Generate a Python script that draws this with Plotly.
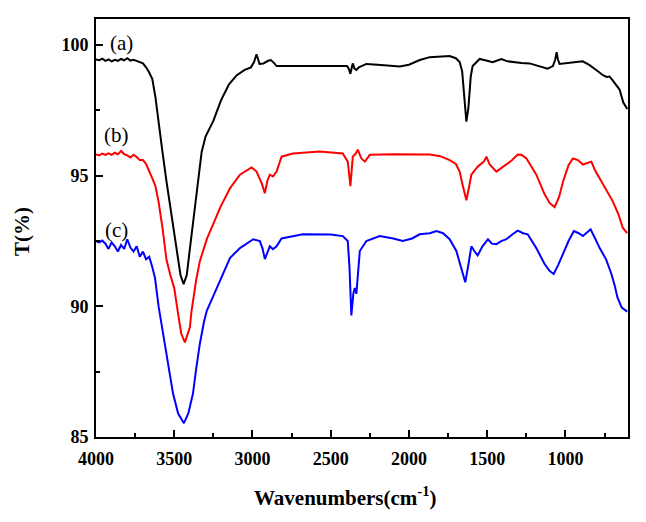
import plotly.graph_objects as go

# ---- data: wavenumber (cm^-1) and transmittance (%) ----
a_wn = [4000, 3980, 3960, 3940, 3920, 3900, 3880, 3860, 3840, 3820, 3800, 3780, 3760, 3740, 3720, 3700,
        3680, 3660, 3640, 3620, 3600, 3575, 3550, 3525, 3500, 3480, 3460, 3440, 3420, 3400, 3375, 3350,
        3325, 3300, 3275, 3250, 3225, 3200, 3150, 3100, 3050, 3010, 2990, 2974, 2955, 2930, 2900, 2882,
        2860, 2846, 2800, 2700, 2600, 2500, 2420, 2395, 2385, 2374, 2365, 2359, 2348, 2336, 2320, 2290,
        2272, 2200, 2100, 2059, 2000, 1931, 1867, 1800, 1740, 1700, 1676, 1660, 1645, 1633, 1620, 1605,
        1593, 1570, 1548, 1500, 1465, 1440, 1409, 1370, 1337, 1280, 1229, 1170, 1114, 1080, 1065, 1056,
        1048, 1037, 1000, 973, 930, 890, 850, 801, 760, 737, 718, 699, 680, 654, 630, 605]
a_T = [99.45, 99.42, 99.48, 99.40, 99.45, 99.38, 99.44, 99.40, 99.47, 99.42, 99.50, 99.41, 99.44, 99.38, 99.35, 99.30,
       99.15, 98.95, 98.70, 98.00, 97.00, 95.90, 94.80, 93.80, 92.80, 91.90, 91.20, 90.85, 91.20, 92.20, 93.50, 94.80,
       95.90, 96.50, 96.80, 97.10, 97.50, 97.90, 98.50, 98.85, 99.05, 99.15, 99.35, 99.65, 99.28, 99.30, 99.40, 99.43,
       99.30, 99.20, 99.20, 99.20, 99.22, 99.22, 99.22, 99.20, 99.10, 98.90, 99.15, 99.30, 99.10, 99.05, 99.15, 99.25,
       99.28, 99.25, 99.20, 99.18, 99.25, 99.43, 99.54, 99.56, 99.58, 99.50, 99.35, 99.00, 98.00, 97.07, 97.60, 98.80,
       99.20, 99.35, 99.47, 99.40, 99.35, 99.40, 99.47, 99.38, 99.35, 99.32, 99.30, 99.20, 99.10, 99.20, 99.45, 99.73,
       99.45, 99.28, 99.30, 99.30, 99.35, 99.38, 99.25, 99.04, 98.85, 98.78, 98.80, 98.66, 98.50, 98.30, 97.80, 97.56]

b_wn = [4000, 3980, 3960, 3940, 3920, 3900, 3880, 3860, 3840, 3820, 3800, 3780, 3760, 3740, 3720, 3700,
        3680, 3660, 3640, 3620, 3600, 3575, 3550, 3525, 3500, 3475, 3455, 3432, 3410, 3400, 3390, 3372,
        3360, 3336, 3290, 3240, 3208, 3144, 3080, 3006, 2974, 2940, 2921, 2905, 2889, 2869, 2846, 2814,
        2742, 2570, 2423, 2391, 2374, 2359, 2340, 2327, 2304, 2282, 2250, 2100, 1950, 1867, 1800, 1740,
        1700, 1676, 1655, 1633, 1615, 1601, 1561, 1520, 1505, 1484, 1441, 1410, 1377, 1340, 1305, 1280,
        1249, 1186, 1133, 1100, 1069, 1040, 1015, 980, 952, 920, 888, 860, 834, 810, 781, 740,
        697, 660, 633, 605]
b_T = [95.82, 95.78, 95.85, 95.80, 95.86, 95.80, 95.88, 95.82, 95.95, 95.83, 95.78, 95.70, 95.80, 95.72, 95.60, 95.60,
       95.45, 95.20, 94.90, 94.60, 94.00, 93.00, 91.80, 91.20, 90.70, 89.70, 88.95, 88.62, 89.00, 89.20, 89.80, 90.50,
       91.00, 91.74, 92.60, 93.30, 93.76, 94.52, 95.04, 95.32, 95.16, 94.70, 94.33, 94.80, 95.04, 94.97, 95.16, 95.73,
       95.85, 95.93, 95.85, 95.54, 94.60, 95.73, 95.85, 96.00, 95.66, 95.54, 95.80, 95.82, 95.80, 95.81, 95.75, 95.60,
       95.45, 95.16, 94.60, 94.06, 94.60, 95.04, 95.35, 95.55, 95.73, 95.43, 95.16, 95.30, 95.43, 95.60, 95.81, 95.80,
       95.66, 95.04, 94.29, 93.95, 93.80, 94.20, 94.78, 95.40, 95.66, 95.60, 95.43, 95.50, 95.54, 95.20, 94.90, 94.50,
       94.02, 93.50, 93.00, 92.80]

c_wn = [4000, 3980, 3960, 3940, 3920, 3900, 3880, 3860, 3840, 3820, 3800, 3780, 3760, 3740, 3720, 3700,
        3680, 3660, 3640, 3623, 3600, 3572, 3540, 3508, 3475, 3438, 3410, 3380, 3360, 3336, 3310, 3292,
        3250, 3208, 3144, 3080, 2995, 2953, 2935, 2921, 2905, 2889, 2869, 2846, 2814, 2678, 2500, 2423,
        2391, 2380, 2368, 2355, 2346, 2336, 2325, 2314, 2272, 2187, 2100, 2040, 1980, 1931, 1867, 1824,
        1782, 1740, 1697, 1665, 1640, 1620, 1601, 1580, 1561, 1530, 1495, 1470, 1441, 1410, 1377, 1340,
        1305, 1270, 1241, 1186, 1133, 1100, 1075, 1045, 1015, 980, 946, 915, 888, 860, 839, 810,
        781, 740, 706, 685, 667, 640, 605]
c_T = [92.50, 92.45, 92.52, 92.40, 92.20, 92.45, 92.30, 92.10, 92.35, 92.20, 92.57, 92.25, 92.10, 92.30, 91.90, 92.10,
       91.80, 91.90, 91.50, 91.09, 90.00, 88.96, 87.80, 86.67, 85.90, 85.53, 85.90, 86.67, 87.60, 88.58, 89.40, 89.83,
       90.40, 90.97, 91.85, 92.23, 92.57, 92.50, 92.20, 91.81, 92.10, 92.30, 92.19, 92.30, 92.60, 92.76, 92.75, 92.69,
       92.50, 91.50, 89.65, 90.50, 90.70, 90.48, 91.30, 92.12, 92.50, 92.69, 92.60, 92.50, 92.60, 92.76, 92.80, 92.88,
       92.80, 92.57, 92.12, 91.47, 90.92, 91.60, 92.30, 92.10, 91.95, 92.30, 92.57, 92.40, 92.38, 92.50, 92.57, 92.75,
       92.90, 92.80, 92.76, 92.23, 91.62, 91.35, 91.24, 91.60, 92.00, 92.50, 92.88, 92.80, 92.69, 92.85, 92.95, 92.60,
       92.23, 91.80, 91.24, 90.80, 90.33, 89.95, 89.80]

series_labels = ["(a)", "(b)", "(c)"]
label_x = [3834, 3866, 3866]
label_y = [100.1, 96.57, 92.92]

x_ticks = [4000, 3500, 3000, 2500, 2000, 1500, 1000]
y_ticks = [85, 90, 95, 100]

fig = go.Figure()
for wn, T, col in [(a_wn, a_T, "#000000"), (b_wn, b_T, "#ff0000"), (c_wn, c_T, "#0000ff")]:
    fig.add_trace(go.Scatter(x=wn, y=T, mode="lines", line=dict(color=col, width=2), showlegend=False))

for t, lx, ly in zip(series_labels, label_x, label_y):
    fig.add_annotation(x=lx, y=ly, text=t, showarrow=False, xref="x", yref="y",
                       font=dict(family="Liberation Serif", size=21, color="black"))

tickfont = dict(family="Liberation Serif", size=18, color="black", weight="bold")
fig.update_xaxes(range=[4000, 600], tickvals=x_ticks, ticks="inside", ticklen=7, tickwidth=2,
                 tickcolor="black", showline=True, linewidth=2, linecolor="black", mirror=True,
                 showgrid=False, zeroline=False, tickfont=tickfont, ticklabelstandoff=4,
                 minor=dict(dtick=250, tick0=4000, ticks="inside", ticklen=4, tickwidth=2, tickcolor="black"))
fig.update_yaxes(range=[85, 101], tickvals=y_ticks, ticks="inside", ticklen=7, tickwidth=2,
                 tickcolor="black", showline=True, linewidth=2, linecolor="black", mirror=True,
                 showgrid=False, zeroline=False, tickfont=tickfont, ticklabelstandoff=2,
                 minor=dict(dtick=2.5, tick0=85, ticks="inside", ticklen=4, tickwidth=2, tickcolor="black"))

# plot area target in window pixels: x 96..628, y 17..437 (page has 8px body margin)
fig.add_annotation(xref="paper", yref="paper", x=(345 - 96) / (628 - 96), y=-(497 - 437) / (437 - 17),
                   text="Wavenumbers(cm<sup>-1</sup>)", showarrow=False, xanchor="center", yanchor="middle",
                   font=dict(family="Liberation Serif", size=21, color="black", weight="bold"))
fig.add_annotation(xref="paper", yref="paper", x=-(96 - 22) / (628 - 96), y=(437 - 231) / (437 - 17),
                   text="T(%)", showarrow=False, textangle=-90, xanchor="center", yanchor="middle",
                   font=dict(family="Liberation Serif", size=21, color="black", weight="bold"))

fig.update_layout(width=646, height=522, margin=dict(l=88, r=26, t=9, b=93),
                  plot_bgcolor="white", paper_bgcolor="white")
fig.write_html("out.html")
